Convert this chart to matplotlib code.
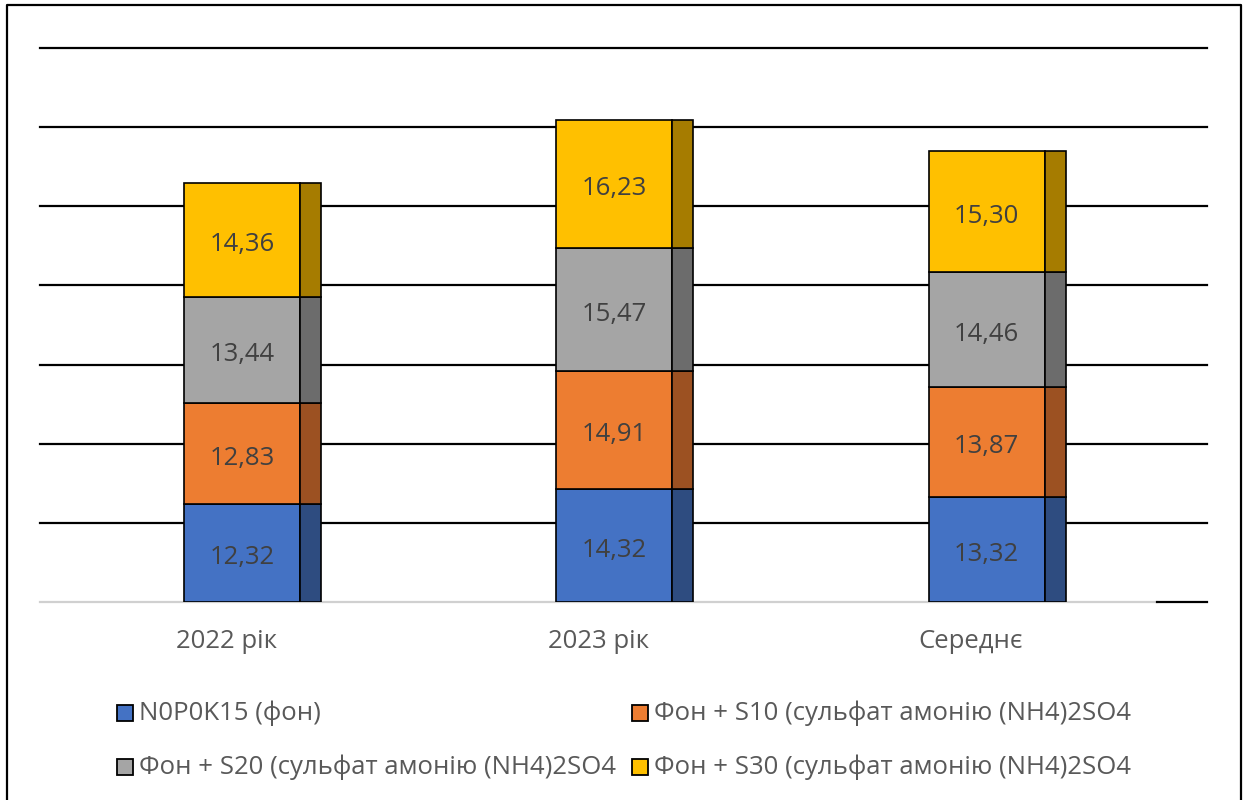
"""Stacked bars of yield by year for the sulphur fertiliser treatments."""

import matplotlib

matplotlib.use("Agg")
import matplotlib.pyplot as plt
from matplotlib.patches import Rectangle
from matplotlib.lines import Line2D

plt.rcParams["font.family"] = ["Open Sans", "DejaVu Sans"]

categories = ["2022 рік", "2023 рік", "Середнє"]
series_names = [
    "N0P0K15 (фон)",
    "Фон + S10 (сульфат амонію (NH4)2SO4",
    "Фон + S20 (сульфат амонію (NH4)2SO4",
    "Фон + S30 (сульфат амонію (NH4)2SO4",
]
values = [
    [12.32, 14.32, 13.32],
    [12.83, 14.91, 13.87],
    [13.44, 15.47, 14.46],
    [14.36, 16.23, 15.30],
]
grid_values = [10, 20, 30, 40, 50, 60, 70]

FRONT = ["#4472C4", "#ED7D31", "#A5A5A5", "#FFC000"]
SIDE = ["#2E4C80", "#9C5122", "#6C6C6C", "#A67C00"]
TEXT = "#404040"
LABEL = "#595959"
FS = 18.5

W, H = 1248, 800
BAR_OFFSET = -0.113   # left edge of front face relative to the category centre
BAR_WIDTH = 0.312
SIDE_WIDTH = 0.056
X_RIGHT = 2.635       # back wall extends past the last category


def fmt(v):
    return f"{v:.2f}".replace(".", ",")


fig = plt.figure(figsize=(W / 100, H / 100), dpi=100)
ax = fig.add_axes([40 / W, (H - 602) / H, (1207 - 40) / W, (602 - 48) / H])
ax.set_xlim(-0.5, X_RIGHT)
ax.set_ylim(0, 70)
ax.axis("off")

# back-wall gridlines
for g in grid_values:
    ax.plot([-0.5, X_RIGHT], [g, g], color="black", lw=1.6, zorder=1, clip_on=False)

# floor: grey front edge, black back-wall stub
ax.plot([-0.5, 2.5], [0, 0], color="#D0D0D0", lw=1.6, zorder=1, clip_on=False)
ax.plot([2.5, X_RIGHT], [0, 0], color="black", lw=1.6, zorder=1, clip_on=False)

for i, cat in enumerate(categories):
    bottom = 0.0
    x0 = i + BAR_OFFSET
    for s, vals in enumerate(values):
        v = vals[i]
        ax.add_patch(Rectangle((x0, bottom), BAR_WIDTH, v, facecolor=FRONT[s],
                               edgecolor="black", lw=1.2, zorder=3))
        ax.add_patch(Rectangle((x0 + BAR_WIDTH, bottom), SIDE_WIDTH, v, facecolor=SIDE[s],
                               edgecolor="black", lw=1.2, zorder=3))
        # comma descender lifts the bbox centre, so nudge the label down a bit
        ax.text(x0 + BAR_WIDTH / 2, bottom + v / 2 - 0.6, fmt(v), ha="center", va="center",
                fontsize=FS, color=TEXT, zorder=4)
        bottom += v
    ax.text(i, -5.0, cat, ha="center", va="center", fontsize=FS, color=LABEL)

# legend, two columns by two rows
legend_pos = [(125, 713), (640, 713), (125, 767), (640, 767)]
for (px, py), name, color in zip(legend_pos, series_names, FRONT):
    fig.patches.append(Rectangle(((px - 8) / W, (H - py - 8) / H), 16 / W, 16 / H,
                                 facecolor=color, edgecolor="black", lw=1.3,
                                 transform=fig.transFigure, figure=fig))
    fig.text((px + 14) / W, (H - py) / H, name, ha="left", va="center",
             fontsize=FS, color=LABEL)

# chart frame (bottom edge falls outside the image)
frame_x = [7 / W, 7 / W, 1241 / W, 1241 / W]
frame_y = [-0.01, 1 - 5 / H, 1 - 5 / H, -0.01]
fig.lines.append(Line2D(frame_x, frame_y, color="black", lw=1.6, transform=fig.transFigure))

fig.savefig("out.png", dpi=100)
